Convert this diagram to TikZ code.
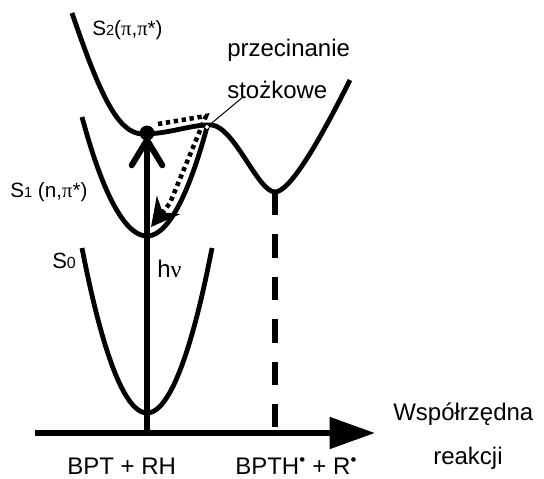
\documentclass[tikz,border=0pt]{standalone}
\usepackage{fontspec}
\setmainfont{Liberation Sans}
\newfontfamily\symfont{Liberation Serif}
\usetikzlibrary{arrows.meta}
\newcommand{\gpi}{{\symfont π}}

\tikzset{
  pes/.style={line width=3.6pt},
  lbl/.style={anchor=base west, inner sep=0pt, font=\fontsize{18}{20}\selectfont},
  stanlbl/.style={lbl, font=\fontsize{15.5}{17}\selectfont},
}

\begin{document}
\begin{tikzpicture}[x=0.75pt, y=-0.75pt, >=Stealth]
    \useasboundingbox (0,0) rectangle (544,479);
    \coordinate (fc) at (147,133);
    \coordinate (base) at (147,436);
    \coordinate (ci) at (207,127);
    \coordinate (rmin) at (275,192);
    \coordinate (rfoot) at (275,428);
    \coordinate (ax0) at (35,433);
    \coordinate (ax1) at (375,433);

    % krzywe energii
    \draw[pes] (82,248) parabola bend (147,413) (212,248);
    \draw[pes] (82,117) parabola bend (147,236) (ci);
    \draw[pes] (72,13) .. controls (100,95) and (118,134) .. (143,134)
        .. controls (170,134) and (192,124) .. (212,125)
        .. controls (235,128) and (258,192) .. (rmin)
        .. controls (290,192) and (320,140) .. (350,80);

    % os i przejscia
    \draw[line width=4.5pt, -{Triangle[length=34pt, width=23pt]}] (ax0) -- (ax1);
    \draw[line width=4.5pt, -{Straight Barb[length=19pt, width=23pt, round]}] (base) -- (147,137);
    \fill (fc) circle (5.6pt);
    \draw[line width=4pt, dash pattern=on 17.6pt off 14.2pt] (rmin) -- (rfoot);
    \draw[line width=3.4pt, dash pattern=on 3.2pt off 2.8pt, -{Stealth[length=21pt, width=22pt, inset=7pt]}]
        (158,124) -- (206,116) -- (170,203) -- (151,227);
    \draw[line width=0.75pt] (ci) -- (243,97);
    \draw[line width=0.6pt, fill=white] (ci) circle (1.8pt);

    % opisy
    \node[stanlbl] (s2lbl) at (92,35) {S{\fontsize{11}{11}\selectfont 2}(\gpi,\gpi*)};
    \node[stanlbl] (s1lbl) at (10,197) {S{\fontsize{11}{11}\selectfont 1} (n,\gpi*)};
    \node[lbl, font=\fontsize{16.5}{18}\selectfont] (s0lbl) at (52,268) {S{\fontsize{12}{12}\selectfont 0}};
    \node[lbl] (hnu) at (157,277) {h{\symfont ν}};
    \node[lbl] (ci1) at (227,56) {przecinanie};
    \node[lbl] (ci2) at (227,98) {stożkowe};
    \node[lbl] (coord1) at (393,420) {Współrzędna};
    \node[lbl] (coord2) at (433,464) {reakcji};
    \node[lbl] (subst) at (67,474) {BPT + RH};
    \node[lbl] (prod) at (235,474) {BPTH\textsuperscript{\textbullet} + R\textsuperscript{\textbullet}};
\end{tikzpicture}
\end{document}
